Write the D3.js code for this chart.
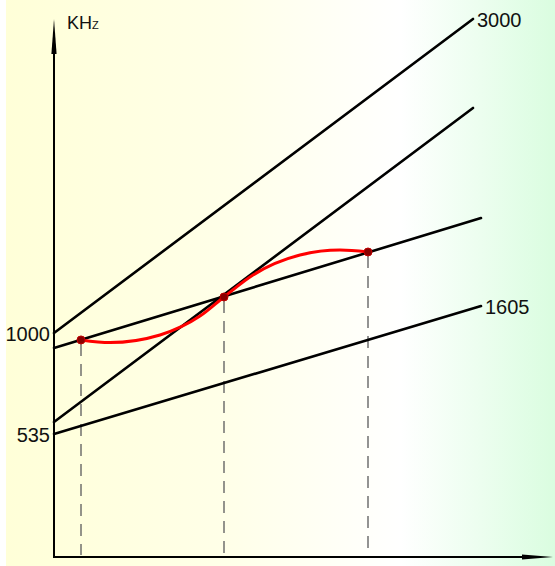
<!DOCTYPE html>
<html>
<head>
<meta charset="utf-8">
<script src="https://cdn.jsdelivr.net/npm/d3@7"></script>
<style>
  body { margin: 0; background: #fff; }
  text { font-family: "Liberation Sans", Arial, sans-serif; fill: #111; }
</style>
</head>
<body>
<script>
// dial position (0..10) vs frequency (kHz, schematic)
var lines = [
  {name: "osc-top", x0: 0, y0: 1000, x1: 8.38, y1: 2446, label: "3000"},
  {name: "osc-low", x0: 0, y0: 590,  x1: 8.38, y1: 2036, label: ""},
  {name: "ideal",   x0: 0, y0: 931,  x1: 8.54, y1: 1529, label: ""},
  {name: "signal",  x0: 0, y0: 535,  x1: 8.54, y1: 1124, label: "1605"}
];
var trackX = [0.54, 1.12, 2.12, 2.92, 3.4, 3.98, 4.92, 5.72, 6.28];
var trackY = [968, 956, 991, 1078, 1166, 1267, 1359, 1382, 1373];
var crossX = [0.54, 3.4, 6.28];
var crossY = [968, 1166, 1373];
var yTicks = [1000, 535];

var width = 555, height = 566;
var svg = d3.select("body").append("svg")
  .attr("width", width)
  .attr("height", height);

var defs = svg.append("defs");
var grad = defs.append("linearGradient").attr("id", "bg")
  .attr("x1", "0%").attr("x2", "100%").attr("y1", "0%").attr("y2", "0%");
[["0%", "#ffffd8"], ["40%", "#ffffe8"], ["72%", "#ffffff"], ["100%", "#dafde0"]]
  .forEach(function(s) { grad.append("stop").attr("offset", s[0]).attr("stop-color", s[1]); });

svg.append("rect").attr("x", 6).attr("y", 0).attr("width", width - 6).attr("height", height)
  .attr("fill", "url(#bg)");

var x = d3.scaleLinear().domain([0, 10]).range([54, 554]);
var y = d3.scaleLinear().domain([535, 1000]).range([434, 333]);
var x0 = x(0), yBase = 557;

// dashed drops
svg.append("g").selectAll("line")
  .data(crossX)
  .enter().append("line")
    .attr("x1", function(d) { return x(d); })
    .attr("x2", function(d) { return x(d); })
    .attr("y1", function(d, i) { return y(crossY[i]) + 4; })
    .attr("y2", yBase - 2)
    .attr("stroke", "#666")
    .attr("stroke-width", 1.4)
    .attr("stroke-dasharray", "12,8");

// frequency lines
svg.append("g").selectAll("line")
  .data(lines)
  .enter().append("line")
    .attr("x1", function(d) { return x(d.x0); })
    .attr("y1", function(d) { return y(d.y0); })
    .attr("x2", function(d) { return x(d.x1); })
    .attr("y2", function(d) { return y(d.y1); })
    .attr("stroke", "#000")
    .attr("stroke-width", 2.6)
    .attr("stroke-linecap", "round");

svg.append("g").selectAll("text")
  .data(lines.filter(function(d) { return d.label; }))
  .enter().append("text")
    .attr("x", function(d) { return x(d.x1) + 4; })
    .attr("y", function(d) { return y(d.y1) + 8; })
    .attr("font-size", 20)
    .text(function(d) { return d.label; });

// tracking curve
var track = d3.line()
  .x(function(d, i) { return x(trackX[i]); })
  .y(function(d) { return y(d); })
  .curve(d3.curveMonotoneX);
svg.append("path")
  .attr("d", track(trackY))
  .attr("fill", "none")
  .attr("stroke", "#ff0000")
  .attr("stroke-width", 3);

svg.append("g").selectAll("circle")
  .data(crossX)
  .enter().append("circle")
    .attr("cx", function(d) { return x(d); })
    .attr("cy", function(d, i) { return y(crossY[i]); })
    .attr("r", 4)
    .attr("fill", "#8a0000")
    .attr("stroke", "#c00000")
    .attr("stroke-width", 1);

// y tick labels at intercepts
svg.append("g").selectAll("text")
  .data(yTicks)
  .enter().append("text")
    .attr("x", x0 - 4)
    .attr("y", function(d) { return y(d) + 8; })
    .attr("text-anchor", "end")
    .attr("font-size", 20)
    .text(function(d) { return d; });

// axes with arrows
svg.append("line").attr("x1", x0).attr("y1", yBase).attr("x2", x0).attr("y2", 50)
  .attr("stroke", "#000").attr("stroke-width", 2);
svg.append("line").attr("x1", x0 - 1).attr("y1", yBase).attr("x2", 528).attr("y2", yBase)
  .attr("stroke", "#000").attr("stroke-width", 2);
svg.append("path")
  .attr("d", "M" + x0 + ",19 L" + (x0 + 2.6) + ",54 L" + (x0 - 2.6) + ",54 Z")
  .attr("fill", "#000");
svg.append("path")
  .attr("d", "M553," + yBase + " L522," + (yBase - 2.6) + " L522," + (yBase + 2.6) + " Z")
  .attr("fill", "#000");

var unit = svg.append("text").attr("x", 67).attr("y", 29).attr("font-size", 18);
unit.append("tspan").text("KH");
unit.append("tspan").attr("font-size", 11).text("Z");
</script>
</body>
</html>
